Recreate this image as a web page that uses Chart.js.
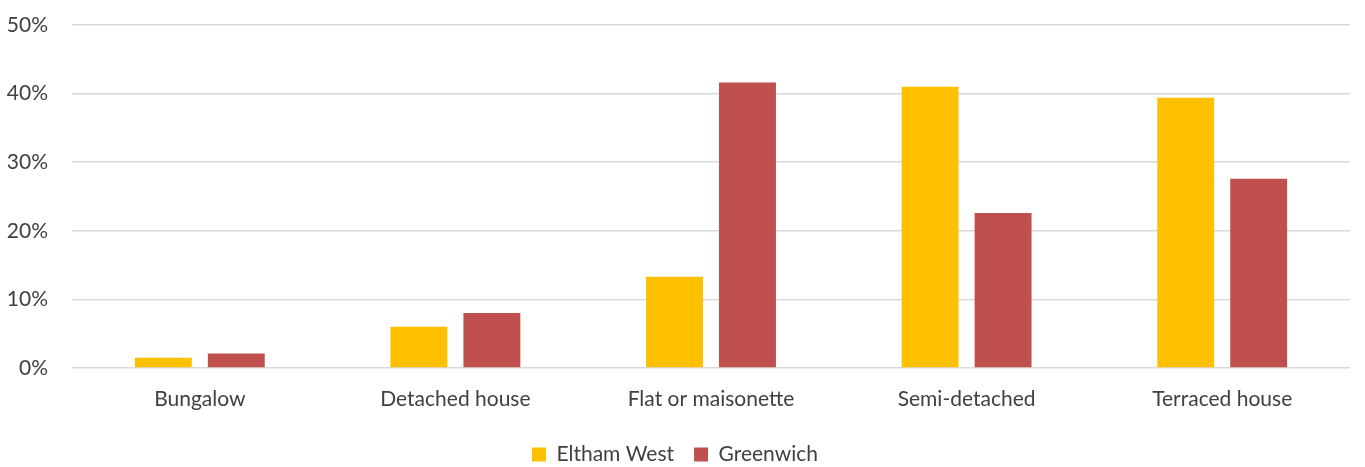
<!DOCTYPE html>
<html lang="en">
  <head>
    <meta charset="utf-8" />
    <title>Dwelling type</title>
    <style>
      * {
        margin: 0;
        padding: 0;
      }
      body {
        background: white;
      }
      .chartBox {
        width: 1365px;
        height: 467px;
      }
    </style>
  </head>
  <body>
    <div class="chartBox">
      <canvas id="myChart"></canvas>
    </div>

    <script src="https://cdn.jsdelivr.net/npm/chart.js@4/dist/chart.umd.min.js"></script>

    <script>
      // data block
      const categories = ["Bungalow", "Detached house", "Flat or maisonette", "Semi-detached", "Terraced house"];
      const elthamWest = [1.5, 6.0, 13.3, 41.0, 39.4];
      const greenwich = [2.1, 8.0, 41.6, 22.6, 27.6];
      const yTicks = [0, 10, 20, 30, 40, 50];

      const font = { family: "Lato, 'Open Sans', sans-serif", size: 21 };
      const textColor = "#404040";

      const data = {
        labels: categories,
        datasets: [
          {
            label: "Eltham West",
            data: elthamWest,
            backgroundColor: "#FFC000",
            categoryPercentage: 0.571,
            barPercentage: 0.78,
          },
          {
            label: "Greenwich",
            data: greenwich,
            backgroundColor: "#C0504D",
            categoryPercentage: 0.571,
            barPercentage: 0.78,
          },
        ],
      };

      // config block
      const config = {
        type: "bar",
        data: data,
        options: {
          responsive: true,
          maintainAspectRatio: false,
          animation: false,
          layout: {
            padding: { top: 25, right: 15, left: 0, bottom: -8 },
          },
          plugins: {
            legend: {
              position: "bottom",
              labels: {
                color: textColor,
                font: font,
                boxWidth: 14,
                boxHeight: 14,
                padding: 20,
              },
            },
            tooltip: { enabled: false },
          },
          scales: {
            x: {
              grid: { display: false },
              border: { display: false },
              ticks: { color: textColor, font: font, padding: 11 },
              afterFit(axis) {
                axis.height = 56;
              },
            },
            y: {
              min: 0,
              max: 50,
              afterBuildTicks(axis) {
                axis.ticks = yTicks.map((v) => ({ value: v }));
              },
              afterFit(axis) {
                axis.width = 72;
                // tick padding would otherwise push the plot down
                axis.paddingTop = 0;
                axis.paddingBottom = 0;
              },
              grid: { color: "#d9d9d9", lineWidth: 1.5, drawTicks: false },
              border: { display: false },
              ticks: {
                color: textColor,
                font: font,
                padding: 24,
                callback: (v) => v + "%",
              },
            },
          },
        },
      };

      // init render block
      const myChart = new Chart(document.getElementById("myChart"), config);
    </script>
  </body>
</html>
